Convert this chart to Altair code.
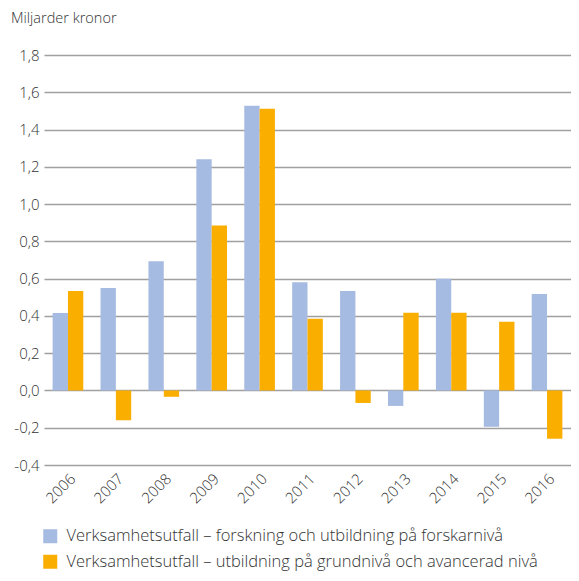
import altair as alt
import pandas as pd

years = ["2006", "2007", "2008", "2009", "2010", "2011", "2012", "2013", "2014", "2015", "2016"]
forskning = [0.415, 0.55, 0.693, 1.24, 1.528, 0.581, 0.534, -0.083, 0.60, -0.195, 0.517]
grund = [0.534, -0.16, -0.034, 0.885, 1.512, 0.385, -0.067, 0.417, 0.417, 0.368, -0.259]
series = [
    "Verksamhetsutfall – forskning och utbildning på forskarnivå",
    "Verksamhetsutfall – utbildning på grundnivå och avancerad nivå",
]
colors = ["#a6bbe1", "#f9ae00"]

rows = []
for i, y in enumerate(years):
    rows.append({"year": y, "series": series[0], "value": forskning[i]})
    rows.append({"year": y, "series": series[1], "value": grund[i]})
df = pd.DataFrame(rows)

FONT = "Open Sans"
W = 300

chart = alt.Chart(df).mark_bar().encode(
    x=alt.X("year:N", sort=years, title=None,
            scale=alt.Scale(paddingInner=0.36, paddingOuter=0.18),
            axis=alt.Axis(labelAngle=-45, ticks=False, domain=False, labelFontSize=15,
                          labelFontWeight=W,
                          labelColor="#333333", labelFont=FONT, labelPadding=6)),
    xOffset=alt.XOffset("series:N", sort=series, scale=alt.Scale(paddingInner=0, paddingOuter=0)),
    y=alt.Y("value:Q", title=None,
            scale=alt.Scale(domain=[-0.4, 1.8], nice=False, zero=False),
            axis=alt.Axis(values=[-0.4, -0.2, 0, 0.2, 0.4, 0.6, 0.8, 1.0, 1.2, 1.4, 1.6, 1.8],
                          labelExpr="replace(replace(format(datum.value, '.1f'), '.', ','), '\u2212', '-')",
                          ticks=False, domain=False, grid=True, gridColor="#a0a0a0", gridWidth=1.6,
                          labelFontSize=15, labelFontWeight=W,
                          labelColor="#333333", labelFont=FONT, labelPadding=5)),
    color=alt.Color("series:N", sort=series,
                    scale=alt.Scale(domain=series, range=colors),
                    legend=alt.Legend(title=None, orient="none", legendX=-2, legendY=473,
                                      direction="vertical", symbolType="square", symbolSize=196,
                                      symbolStrokeWidth=0, labelFontSize=16.5, labelFontWeight=W,
                                      labelColor="#333333",
                                      labelFont=FONT, rowPadding=8.5, labelLimit=600, labelOffset=8)),
).properties(
    width=527,
    height=410,
    autosize=alt.AutoSizeParams(type="none"),
    padding={"left": 36, "top": 47, "right": 0, "bottom": 108},
    title=alt.Title("Miljarder kronor", anchor="start", frame="group", dx=-33, offset=22,
                    fontSize=14.5, fontWeight=W, color="#333333", font=FONT),
).configure_view(stroke=None)

chart.save("out.html", embed_options={"renderer": "svg", "actions": False})
